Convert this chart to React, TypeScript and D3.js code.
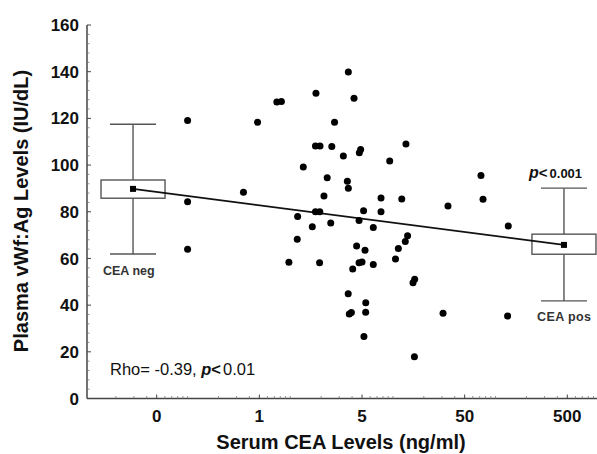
import React from 'react';
import * as d3 from 'd3';

// serum CEA (plotted on the log axis) and plasma vWf:Ag of each patient
const ceaValues = [
  0.10, 0.10, 0.10, 0.35, 0.48, 0.74, 0.82, 0.97, 1.18, 1.17,
  1.34, 1.64, 1.76, 1.95, 2.54, 1.78, 3.68, 4.18, 2.70, 3.29,
  4.85, 4.71, 13.4, 9.31, 2.29, 3.60, 3.68, 72.1, 2.13, 7.66,
  12.2, 75.5, 34.4, 1.76, 1.94, 5.18, 7.66, 2.48, 4.68, 6.44,
  133, 1.93, 4.43, 5.35, 13.9, 13.2, 11.3, 10.6, 4.68, 5.00,
  4.06, 6.44, 16.3, 15.7, 3.67, 5.44, 3.76, 3.94, 5.43, 30.8,
  131, 5.22, 16.2,
];
const vwfValues = [
  119.1, 84.3, 63.9, 88.3, 118.3, 127.0, 127.2, 58.4, 78.0, 68.2,
  99.2, 73.6, 108.2, 108.2, 107.9, 130.8, 139.9, 128.6, 118.3, 103.9,
  106.7, 105.3, 109.0, 101.7, 94.6, 93.1, 90.1, 95.5, 86.8, 85.9,
  85.5, 85.4, 82.5, 80.0, 80.0, 80.4, 80.0, 75.2, 76.3, 73.2,
  73.9, 58.1, 65.3, 63.5, 69.7, 67.3, 64.3, 59.8, 58.1, 58.5,
  55.5, 57.4, 51.1, 49.6, 44.9, 41.0, 36.2, 36.8, 36.9, 36.5,
  35.3, 26.6, 17.9,
];

// box plots for the two groups
const boxGroups = ['CEA neg', 'CEA pos'];
const boxCea = [0.0294, 464];
const boxLow = [61.9, 41.8];
const boxQ1 = [85.8, 61.8];
const boxQ3 = [93.6, 70.4];
const boxHigh = [117.5, 90.1];
const boxMean = [89.8, 65.8];

const xTickValues = [0.05, 0.5, 5, 50, 500];
const xTickLabels = ['0', '1', '5', '50', '500'];
const yTickValues = [0, 20, 40, 60, 80, 100, 120, 140, 160];

const W = 597;
const H = 454;
const plotLeft = 87;
const plotRight = 597;
const font = "Arial, 'Liberation Sans', sans-serif";
const axisColor = '#444';

export default function App() {
  const x = d3.scaleLog().domain([0.05, 500]).range([156.7, 567.3]);
  const y = d3.scaleLinear().domain([0, 160]).range([398.5, 25]);

  const minorX = d3.scaleLog()
    .domain([x.invert(plotLeft + 1), x.invert(plotRight - 1)])
    .ticks()
    .filter(v => !xTickValues.some(t => Math.abs(t - v) < 1e-9));
  const minorY = d3.range(0, 161, 4).filter(v => v % 20 !== 0);

  const boxW = 64;
  const capW = 46;

  return (
    <svg width={W} height={H} style={{ position: 'absolute', left: 0, top: 0, background: '#fff' }} fontFamily={font}>
      {/* axes */}
      <line x1={plotLeft} x2={plotLeft} y1={y(0)} y2={y(160)} stroke={axisColor} strokeWidth={1.5} />
      <line x1={plotLeft} x2={plotRight} y1={y(0)} y2={y(0)} stroke={axisColor} strokeWidth={1.5} />
      {yTickValues.map(v => (
        <g key={'yt' + v}>
          <line x1={plotLeft} x2={plotLeft + 4} y1={y(v)} y2={y(v)} stroke={axisColor} strokeWidth={1} />
          <text x={79} y={y(v)} dy="0.36em" textAnchor="end" fontSize={17} fontWeight="bold" fill="#111">{v}</text>
        </g>
      ))}
      {minorY.map(v => (
        <line key={'ym' + v} x1={plotLeft} x2={plotLeft + 2.5} y1={y(v)} y2={y(v)} stroke="#777" strokeWidth={0.8} />
      ))}
      {xTickValues.map((v, i) => (
        <g key={'xt' + v}>
          <line x1={x(v)} x2={x(v)} y1={y(0)} y2={y(0) - 4} stroke={axisColor} strokeWidth={1} />
          <text x={x(v)} y={421.5} textAnchor="middle" fontSize={17} fontWeight="bold" fill="#111">{xTickLabels[i]}</text>
        </g>
      ))}
      {minorX.map(v => (
        <line key={'xm' + v} x1={x(v)} x2={x(v)} y1={y(0)} y2={y(0) - 2.5} stroke="#777" strokeWidth={0.8} />
      ))}

      {/* axis titles */}
      <text x={341} y={448.5} textAnchor="middle" fontSize={20} fontWeight="bold" fill="#111">Serum CEA Levels (ng/ml)</text>
      <text transform={`translate(28,${211}) rotate(-90)`} textAnchor="middle" fontSize={20} fontWeight="bold" fill="#111">
        Plasma vWf:Ag Levels (IU/dL)
      </text>

      {/* box plots */}
      {boxGroups.map((g, i) => {
        const cx = x(boxCea[i]);
        return (
          <g key={g}>
            <line x1={cx} x2={cx} y1={y(boxLow[i])} y2={y(boxHigh[i])} stroke="#555" strokeWidth={1.4} />
            <line x1={cx - capW / 2} x2={cx + capW / 2} y1={y(boxLow[i])} y2={y(boxLow[i])} stroke="#555" strokeWidth={1.4} />
            <line x1={cx - capW / 2} x2={cx + capW / 2} y1={y(boxHigh[i])} y2={y(boxHigh[i])} stroke="#555" strokeWidth={1.4} />
            <rect x={cx - boxW / 2} y={y(boxQ3[i])} width={boxW} height={y(boxQ1[i]) - y(boxQ3[i])} fill="#fff" stroke="#555" strokeWidth={1.4} />
          </g>
        );
      })}

      {/* line joining the two group means */}
      <line x1={x(boxCea[0])} y1={y(boxMean[0])} x2={x(boxCea[1])} y2={y(boxMean[1])} stroke="#111" strokeWidth={1.8} />
      {boxGroups.map((g, i) => (
        <rect key={'m' + g} x={x(boxCea[i]) - 3} y={y(boxMean[i]) - 3} width={6} height={6} fill="#000" />
      ))}

      {/* patients */}
      {ceaValues.map((c, i) => (
        <circle key={'p' + i} cx={x(c)} cy={y(vwfValues[i])} r={3.5} fill="#000" />
      ))}

      {/* annotations */}
      <text x={103} y={275} fontSize={12.5} fontWeight="bold" fill="#333">{boxGroups[0]}</text>
      <text x={537} y={320.5} fontSize={12.5} fontWeight="bold" fill="#333" letterSpacing={0.4}>{boxGroups[1]}</text>
      <text x={529} y={178} fontWeight="bold" fill="#111">
        <tspan fontSize={16} fontStyle="italic">p</tspan>
        <tspan fontSize={15}>{'<'}</tspan>
        <tspan fontSize={13} dx={2}>0.001</tspan>
      </text>
      <text x={110} y={375} fontSize={16.5} fill="#111">
        <tspan>Rho= -0.39, </tspan>
        <tspan fontWeight="bold" fontStyle="italic">p</tspan>
        <tspan fontWeight="bold">{'<'}</tspan>
        <tspan dx={2}>0.01</tspan>
      </text>
    </svg>
  );
}
